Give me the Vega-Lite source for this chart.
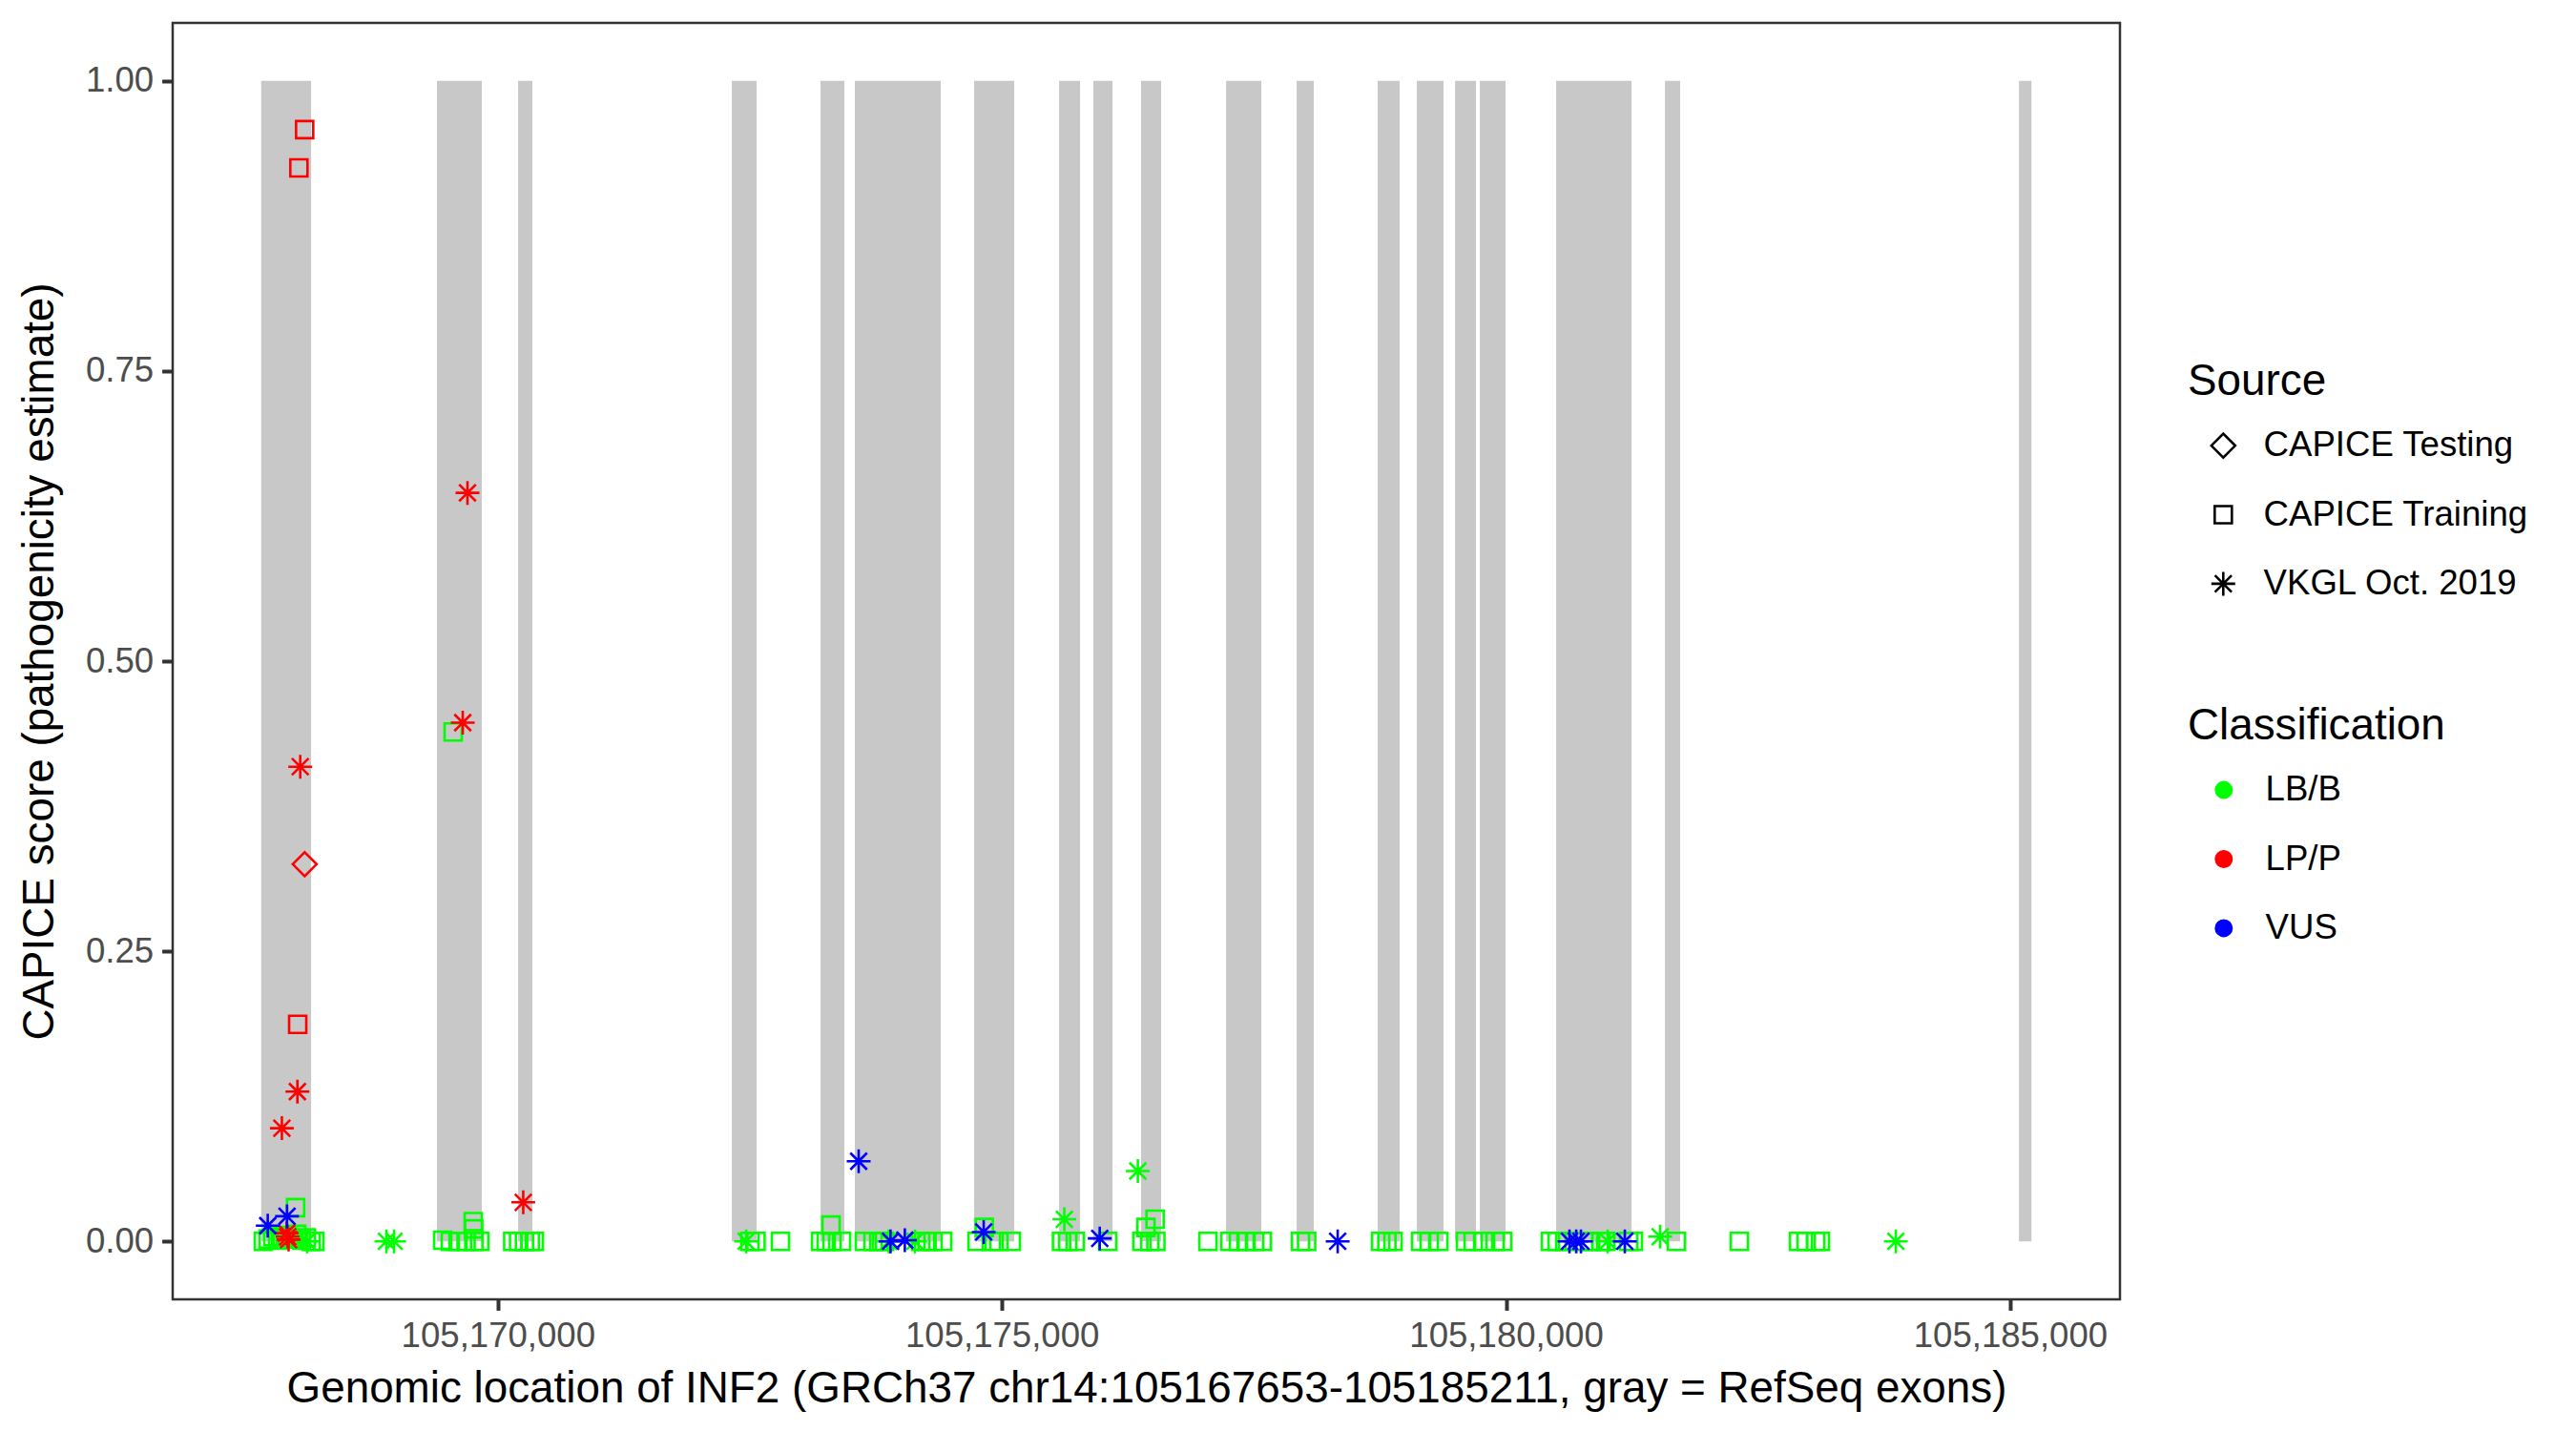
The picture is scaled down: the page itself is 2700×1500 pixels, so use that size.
{
  "$schema": "https://vega.github.io/schema/vega-lite/v6.json",
  "width": 2041,
  "height": 1338,
  "autosize": {"type": "none"},
  "padding": {"left": 181, "top": 24, "right": 478, "bottom": 138},
  "background": "white",
  "config": {
    "font": "Liberation Sans",
    "view": {"stroke": "#333333", "strokeWidth": 2.5},
    "axis": {
      "grid": false, "domain": false,
      "tickColor": "#333333", "tickWidth": 4, "tickSize": 11.4,
      "labelFont": "Liberation Sans", "labelFontSize": 36.6, "labelColor": "#4D4D4D", "labelPadding": 9, "labelLimit": 0,
      "titleFont": "Liberation Sans", "titleFontSize": 45.8, "titleFontWeight": "normal", "titleColor": "black", "titleLimit": 0
    },
    "legend": {
      "titleFont": "Liberation Sans", "titleFontSize": 45.8, "titleFontWeight": "normal", "titleColor": "black", "titleLimit": 0,
      "labelFont": "Liberation Sans", "labelFontSize": 36.6, "labelColor": "black", "labelLimit": 0, "padding": 0
    }
  },
  "datasets": {
    "exons": [
      {"start": 105167653, "end": 105168148},
      {"start": 105169396, "end": 105169841},
      {"start": 105170201, "end": 105170343},
      {"start": 105172321, "end": 105172567},
      {"start": 105173201, "end": 105173437},
      {"start": 105173541, "end": 105174393},
      {"start": 105174724, "end": 105175122},
      {"start": 105175567, "end": 105175775},
      {"start": 105175907, "end": 105176097},
      {"start": 105176380, "end": 105176579},
      {"start": 105177223, "end": 105177573},
      {"start": 105177923, "end": 105178093},
      {"start": 105178727, "end": 105178945},
      {"start": 105179115, "end": 105179380},
      {"start": 105179494, "end": 105179702},
      {"start": 105179740, "end": 105179995},
      {"start": 105180497, "end": 105181245},
      {"start": 105181576, "end": 105181727},
      {"start": 105185087, "end": 105185211}
    ],
    "variants": [
      {"pos": 105167674, "score": 0, "source": "CAPICE Training", "cls": "LB/B"},
      {"pos": 105167721, "score": 0.002, "source": "CAPICE Training", "cls": "LB/B"},
      {"pos": 105167769, "score": 0.004, "source": "CAPICE Training", "cls": "LB/B"},
      {"pos": 105167816, "score": 0.001, "source": "CAPICE Training", "cls": "LB/B"},
      {"pos": 105167863, "score": 0.003, "source": "CAPICE Training", "cls": "LB/B"},
      {"pos": 105167911, "score": 0.005, "source": "CAPICE Training", "cls": "LB/B"},
      {"pos": 105167958, "score": 0.002, "source": "CAPICE Training", "cls": "LB/B"},
      {"pos": 105168005, "score": 0.006, "source": "CAPICE Training", "cls": "LB/B"},
      {"pos": 105168053, "score": 0.001, "source": "CAPICE Training", "cls": "LB/B"},
      {"pos": 105168100, "score": 0.003, "source": "CAPICE Training", "cls": "LB/B"},
      {"pos": 105168147, "score": 0, "source": "CAPICE Training", "cls": "LB/B"},
      {"pos": 105168185, "score": 0, "source": "CAPICE Training", "cls": "LB/B"},
      {"pos": 105167994, "score": 0.029, "source": "CAPICE Training", "cls": "LB/B"},
      {"pos": 105169557, "score": 0.439, "source": "CAPICE Training", "cls": "LB/B"},
      {"pos": 105169453, "score": 0.001, "source": "CAPICE Training", "cls": "LB/B"},
      {"pos": 105169529, "score": 0, "source": "CAPICE Training", "cls": "LB/B"},
      {"pos": 105169605, "score": 0, "source": "CAPICE Training", "cls": "LB/B"},
      {"pos": 105169685, "score": 0, "source": "CAPICE Training", "cls": "LB/B"},
      {"pos": 105169762, "score": 0, "source": "CAPICE Training", "cls": "LB/B"},
      {"pos": 105169820, "score": 0, "source": "CAPICE Training", "cls": "LB/B"},
      {"pos": 105169756, "score": 0.017, "source": "CAPICE Training", "cls": "LB/B"},
      {"pos": 105169760, "score": 0.0107, "source": "CAPICE Training", "cls": "LB/B"},
      {"pos": 105170148, "score": 0, "source": "CAPICE Training", "cls": "LB/B"},
      {"pos": 105170206, "score": 0, "source": "CAPICE Training", "cls": "LB/B"},
      {"pos": 105170264, "score": 0, "source": "CAPICE Training", "cls": "LB/B"},
      {"pos": 105170322, "score": 0, "source": "CAPICE Training", "cls": "LB/B"},
      {"pos": 105170362, "score": 0, "source": "CAPICE Training", "cls": "LB/B"},
      {"pos": 105172500, "score": 0, "source": "CAPICE Training", "cls": "LB/B"},
      {"pos": 105172561, "score": 0, "source": "CAPICE Training", "cls": "LB/B"},
      {"pos": 105172803, "score": 0, "source": "CAPICE Training", "cls": "LB/B"},
      {"pos": 105173201, "score": 0, "source": "CAPICE Training", "cls": "LB/B"},
      {"pos": 105173257, "score": 0, "source": "CAPICE Training", "cls": "LB/B"},
      {"pos": 105173314, "score": 0, "source": "CAPICE Training", "cls": "LB/B"},
      {"pos": 105173409, "score": 0, "source": "CAPICE Training", "cls": "LB/B"},
      {"pos": 105173305, "score": 0.014, "source": "CAPICE Training", "cls": "LB/B"},
      {"pos": 105173636, "score": 0, "source": "CAPICE Training", "cls": "LB/B"},
      {"pos": 105173721, "score": 0, "source": "CAPICE Training", "cls": "LB/B"},
      {"pos": 105173778, "score": 0, "source": "CAPICE Training", "cls": "LB/B"},
      {"pos": 105173835, "score": 0, "source": "CAPICE Training", "cls": "LB/B"},
      {"pos": 105174194, "score": 0, "source": "CAPICE Training", "cls": "LB/B"},
      {"pos": 105174257, "score": 0, "source": "CAPICE Training", "cls": "LB/B"},
      {"pos": 105174317, "score": 0, "source": "CAPICE Training", "cls": "LB/B"},
      {"pos": 105174412, "score": 0, "source": "CAPICE Training", "cls": "LB/B"},
      {"pos": 105174825, "score": 0.012, "source": "CAPICE Training", "cls": "LB/B"},
      {"pos": 105174753, "score": 0, "source": "CAPICE Training", "cls": "LB/B"},
      {"pos": 105174895, "score": 0, "source": "CAPICE Training", "cls": "LB/B"},
      {"pos": 105174970, "score": 0, "source": "CAPICE Training", "cls": "LB/B"},
      {"pos": 105175093, "score": 0, "source": "CAPICE Training", "cls": "LB/B"},
      {"pos": 105175591, "score": 0, "source": "CAPICE Training", "cls": "LB/B"},
      {"pos": 105175652, "score": 0, "source": "CAPICE Training", "cls": "LB/B"},
      {"pos": 105175727, "score": 0, "source": "CAPICE Training", "cls": "LB/B"},
      {"pos": 105176049, "score": 0, "source": "CAPICE Training", "cls": "LB/B"},
      {"pos": 105176519, "score": 0.019, "source": "CAPICE Training", "cls": "LB/B"},
      {"pos": 105176428, "score": 0.012, "source": "CAPICE Training", "cls": "LB/B"},
      {"pos": 105176388, "score": 0, "source": "CAPICE Training", "cls": "LB/B"},
      {"pos": 105176466, "score": 0, "source": "CAPICE Training", "cls": "LB/B"},
      {"pos": 105176527, "score": 0, "source": "CAPICE Training", "cls": "LB/B"},
      {"pos": 105177043, "score": 0, "source": "CAPICE Training", "cls": "LB/B"},
      {"pos": 105177261, "score": 0, "source": "CAPICE Training", "cls": "LB/B"},
      {"pos": 105177346, "score": 0, "source": "CAPICE Training", "cls": "LB/B"},
      {"pos": 105177421, "score": 0, "source": "CAPICE Training", "cls": "LB/B"},
      {"pos": 105177506, "score": 0, "source": "CAPICE Training", "cls": "LB/B"},
      {"pos": 105177582, "score": 0, "source": "CAPICE Training", "cls": "LB/B"},
      {"pos": 105177961, "score": 0, "source": "CAPICE Training", "cls": "LB/B"},
      {"pos": 105178022, "score": 0, "source": "CAPICE Training", "cls": "LB/B"},
      {"pos": 105178756, "score": 0, "source": "CAPICE Training", "cls": "LB/B"},
      {"pos": 105178818, "score": 0, "source": "CAPICE Training", "cls": "LB/B"},
      {"pos": 105178879, "score": 0, "source": "CAPICE Training", "cls": "LB/B"},
      {"pos": 105179153, "score": 0, "source": "CAPICE Training", "cls": "LB/B"},
      {"pos": 105179238, "score": 0, "source": "CAPICE Training", "cls": "LB/B"},
      {"pos": 105179333, "score": 0, "source": "CAPICE Training", "cls": "LB/B"},
      {"pos": 105179598, "score": 0, "source": "CAPICE Training", "cls": "LB/B"},
      {"pos": 105179674, "score": 0, "source": "CAPICE Training", "cls": "LB/B"},
      {"pos": 105179777, "score": 0, "source": "CAPICE Training", "cls": "LB/B"},
      {"pos": 105179891, "score": 0, "source": "CAPICE Training", "cls": "LB/B"},
      {"pos": 105179967, "score": 0, "source": "CAPICE Training", "cls": "LB/B"},
      {"pos": 105180440, "score": 0, "source": "CAPICE Training", "cls": "LB/B"},
      {"pos": 105180506, "score": 0, "source": "CAPICE Training", "cls": "LB/B"},
      {"pos": 105180582, "score": 0, "source": "CAPICE Training", "cls": "LB/B"},
      {"pos": 105180771, "score": 0, "source": "CAPICE Training", "cls": "LB/B"},
      {"pos": 105180838, "score": 0, "source": "CAPICE Training", "cls": "LB/B"},
      {"pos": 105180941, "score": 0, "source": "CAPICE Training", "cls": "LB/B"},
      {"pos": 105180989, "score": 0, "source": "CAPICE Training", "cls": "LB/B"},
      {"pos": 105181216, "score": 0, "source": "CAPICE Training", "cls": "LB/B"},
      {"pos": 105181263, "score": 0, "source": "CAPICE Training", "cls": "LB/B"},
      {"pos": 105181689, "score": 0, "source": "CAPICE Training", "cls": "LB/B"},
      {"pos": 105182314, "score": 0, "source": "CAPICE Training", "cls": "LB/B"},
      {"pos": 105182901, "score": 0, "source": "CAPICE Training", "cls": "LB/B"},
      {"pos": 105182976, "score": 0, "source": "CAPICE Training", "cls": "LB/B"},
      {"pos": 105183071, "score": 0, "source": "CAPICE Training", "cls": "LB/B"},
      {"pos": 105183118, "score": 0, "source": "CAPICE Training", "cls": "LB/B"},
      {"pos": 105168109, "score": 0, "source": "VKGL Oct. 2019", "cls": "LB/B"},
      {"pos": 105168895, "score": 0, "source": "VKGL Oct. 2019", "cls": "LB/B"},
      {"pos": 105168971, "score": 0, "source": "VKGL Oct. 2019", "cls": "LB/B"},
      {"pos": 105172463, "score": 0, "source": "VKGL Oct. 2019", "cls": "LB/B"},
      {"pos": 105173878, "score": 0, "source": "VKGL Oct. 2019", "cls": "LB/B"},
      {"pos": 105174138, "score": 0, "source": "VKGL Oct. 2019", "cls": "LB/B"},
      {"pos": 105175619, "score": 0.019, "source": "VKGL Oct. 2019", "cls": "LB/B"},
      {"pos": 105176348, "score": 0.0606, "source": "VKGL Oct. 2019", "cls": "LB/B"},
      {"pos": 105181008, "score": 0, "source": "VKGL Oct. 2019", "cls": "LB/B"},
      {"pos": 105181528, "score": 0.004, "source": "VKGL Oct. 2019", "cls": "LB/B"},
      {"pos": 105183866, "score": 0, "source": "VKGL Oct. 2019", "cls": "LB/B"},
      {"pos": 105168084, "score": 0.958, "source": "CAPICE Training", "cls": "LP/P"},
      {"pos": 105168027, "score": 0.925, "source": "CAPICE Training", "cls": "LP/P"},
      {"pos": 105168015, "score": 0.187, "source": "CAPICE Training", "cls": "LP/P"},
      {"pos": 105168084, "score": 0.325, "source": "CAPICE Testing", "cls": "LP/P"},
      {"pos": 105169699, "score": 0.645, "source": "VKGL Oct. 2019", "cls": "LP/P"},
      {"pos": 105169652, "score": 0.447, "source": "VKGL Oct. 2019", "cls": "LP/P"},
      {"pos": 105168040, "score": 0.409, "source": "VKGL Oct. 2019", "cls": "LP/P"},
      {"pos": 105168012, "score": 0.129, "source": "VKGL Oct. 2019", "cls": "LP/P"},
      {"pos": 105167858, "score": 0.0975, "source": "VKGL Oct. 2019", "cls": "LP/P"},
      {"pos": 105170252, "score": 0.0336, "source": "VKGL Oct. 2019", "cls": "LP/P"},
      {"pos": 105167905, "score": 0.007, "source": "VKGL Oct. 2019", "cls": "LP/P"},
      {"pos": 105167915, "score": 0.004, "source": "VKGL Oct. 2019", "cls": "LP/P"},
      {"pos": 105167925, "score": 0.0015, "source": "VKGL Oct. 2019", "cls": "LP/P"},
      {"pos": 105167718, "score": 0.0135, "source": "VKGL Oct. 2019", "cls": "VUS"},
      {"pos": 105167909, "score": 0.0216, "source": "VKGL Oct. 2019", "cls": "VUS"},
      {"pos": 105173579, "score": 0.069, "source": "VKGL Oct. 2019", "cls": "VUS"},
      {"pos": 105173895, "score": 0, "source": "VKGL Oct. 2019", "cls": "VUS"},
      {"pos": 105174037, "score": 0.001, "source": "VKGL Oct. 2019", "cls": "VUS"},
      {"pos": 105174819, "score": 0.008, "source": "VKGL Oct. 2019", "cls": "VUS"},
      {"pos": 105175970, "score": 0.0025, "source": "VKGL Oct. 2019", "cls": "VUS"},
      {"pos": 105178330, "score": 0, "source": "VKGL Oct. 2019", "cls": "VUS"},
      {"pos": 105180629, "score": 0, "source": "VKGL Oct. 2019", "cls": "VUS"},
      {"pos": 105180696, "score": 0, "source": "VKGL Oct. 2019", "cls": "VUS"},
      {"pos": 105180743, "score": 0, "source": "VKGL Oct. 2019", "cls": "VUS"},
      {"pos": 105181178, "score": 0, "source": "VKGL Oct. 2019", "cls": "VUS"}
    ]
  },
  "layer": [
    {
      "data": {"name": "exons"},
      "mark": {"type": "rect", "color": "#C8C8C8", "strokeWidth": 0},
      "encoding": {
        "x": {"field": "start", "type": "quantitative",
              "scale": {"domain": [105166775, 105186089], "nice": false, "zero": false},
              "axis": {"title": "Genomic location of INF2 (GRCh37 chr14:105167653-105185211, gray = RefSeq exons)",
                       "values": [105170000, 105175000, 105180000, 105185000], "format": ",d",
                       "titleBaseline": "alphabetic", "titleY": 107, "titleX": 1020.5, "titleAlign": "center"}},
        "x2": {"field": "end"},
        "y": {"datum": 0, "type": "quantitative",
              "scale": {"domain": [-0.05, 1.05], "nice": false, "zero": false},
              "axis": {"title": "CAPICE score (pathogenicity estimate)", "values": [0, 0.25, 0.5, 0.75, 1], "format": ".2f",
                       "titleAngle": 270, "titleBaseline": "alphabetic", "titleAlign": "center", "titleX": -126, "titleY": 669}},
        "y2": {"datum": 1}
      }
    },
    {
      "data": {"name": "variants"},
      "mark": {"type": "point", "filled": false, "size": 625, "strokeWidth": 2.6, "opacity": 1},
      "encoding": {
        "x": {"field": "pos", "type": "quantitative",
              "scale": {"domain": [105166775, 105186089], "nice": false, "zero": false},
              "axis": {"title": "Genomic location of INF2 (GRCh37 chr14:105167653-105185211, gray = RefSeq exons)",
                       "values": [105170000, 105175000, 105180000, 105185000], "format": ",d",
                       "titleBaseline": "alphabetic", "titleY": 107, "titleX": 1020.5, "titleAlign": "center"}},
        "y": {"field": "score", "type": "quantitative",
              "scale": {"domain": [-0.05, 1.05], "nice": false, "zero": false},
              "axis": {"title": "CAPICE score (pathogenicity estimate)", "values": [0, 0.25, 0.5, 0.75, 1], "format": ".2f",
                       "titleAngle": 270, "titleBaseline": "alphabetic", "titleAlign": "center", "titleX": -126, "titleY": 669}},
        "shape": {"field": "source", "type": "nominal", "title": "Source",
                  "scale": {"domain": ["CAPICE Testing", "CAPICE Training", "VKGL Oct. 2019"],
                            "range": ["M-1,0L0,-1L1,0L0,1Z", "M-0.72,-0.72L0.72,-0.72L0.72,0.72L-0.72,0.72Z", "M-1,0L1,0M0,-1L0,1M-0.7,-0.7L0.7,0.7M-0.7,0.7L0.7,-0.7"]},
                  "legend": {"orient": "none", "legendX": 2112, "legendY": 354, "titleBaseline": "top", "titlePadding": 25,
                             "symbolSize": 625, "symbolStrokeColor": "black", "symbolStrokeWidth": 2.6, "symbolFillColor": "transparent",
                             "rowPadding": 35.4, "symbolOffset": 19, "labelOffset": 24}},
        "color": {"field": "cls", "type": "nominal", "title": "Classification",
                  "scale": {"domain": ["LB/B", "LP/P", "VUS"], "range": ["#00FF00", "#FF0000", "#0000FF"]},
                  "legend": {"orient": "none", "legendX": 2112, "legendY": 715, "titleBaseline": "top", "titlePadding": 25,
                             "symbolType": "circle", "symbolSize": 90, "symbolStrokeWidth": 9.5,
                             "rowPadding": 23.4, "symbolOffset": 19.5, "labelOffset": 25.5}}
      }
    }
  ]
}
